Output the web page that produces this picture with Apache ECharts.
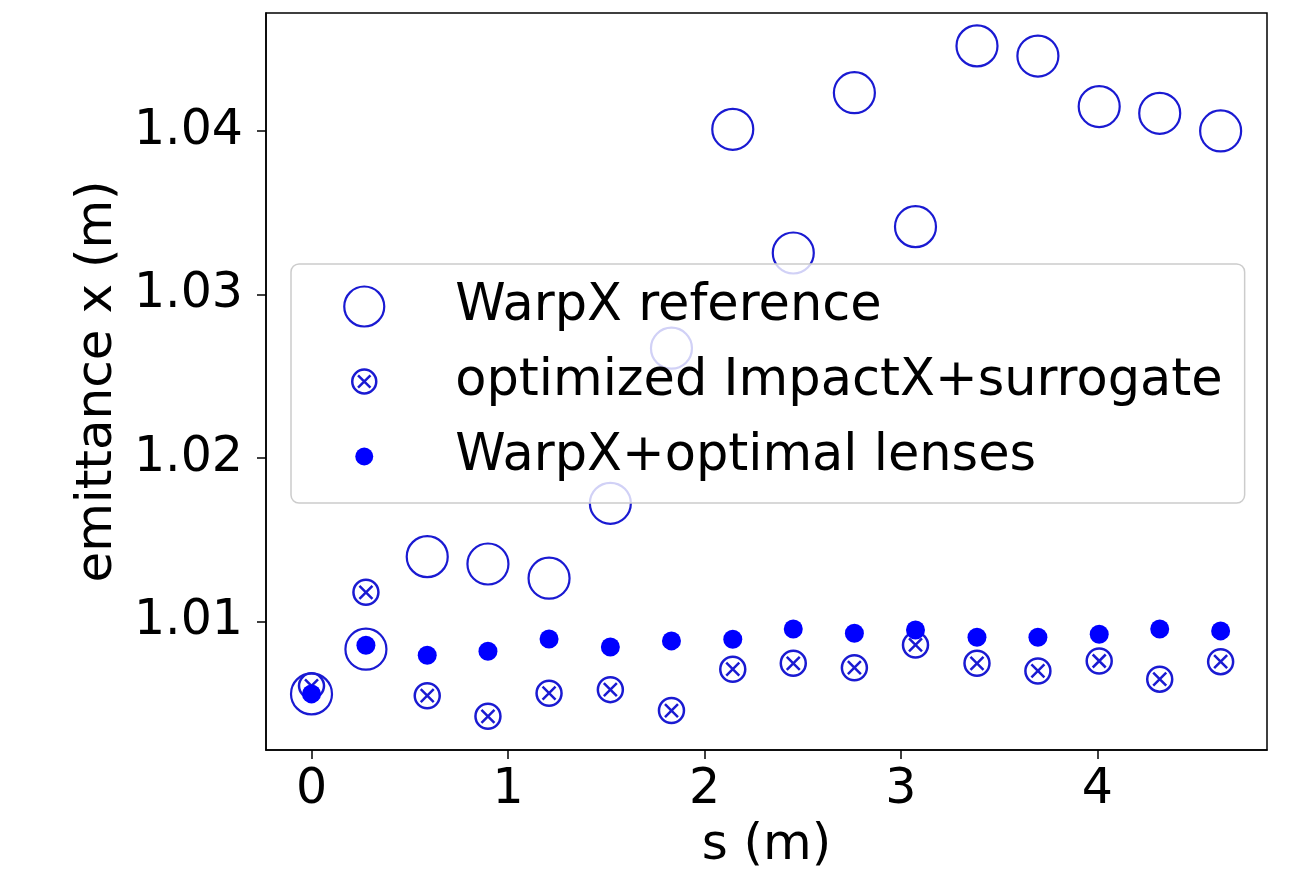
<!DOCTYPE html>
<html>
<head>
<meta charset="utf-8">
<script src="https://cdn.jsdelivr.net/npm/echarts@6/dist/echarts.min.js"></script>
<style>
  html, body { margin: 0; padding: 0; background: #fff; }
  #chart { width: 1312px; height: 876px; }
</style>
</head>
<body>
<div id="chart"></div>
<script>
// positions along the beamline, s (m)
var sPos = [0, 0.277, 0.589, 0.898, 1.209, 1.521, 1.832, 2.144, 2.452, 2.763, 3.074, 3.387, 3.697, 4.009, 4.317, 4.627];
// emittance x (m)
var warpxRef = [1.00559, 1.00832, 1.01398, 1.01353, 1.01266, 1.01724, 1.02672, 1.04010, 1.03254, 1.04234, 1.03415, 1.04520, 1.04458, 1.04149, 1.04108, 1.04000];
var impactxSurrogate = [1.00608, 1.01180, 1.00548, 1.00422, 1.00563, 1.00585, 1.00457, 1.00710, 1.00746, 1.00719, 1.00858, 1.00746, 1.00699, 1.00760, 1.00649, 1.00756];
var warpxOptimal = [1.00559, 1.00856, 1.00795, 1.00820, 1.00895, 1.00846, 1.00883, 1.00893, 1.00956, 1.00930, 1.00950, 1.00905, 1.00905, 1.00924, 1.00956, 1.00944];
var seriesNames = ['WarpX reference', 'optimized ImpactX+surrogate', 'WarpX+optimal lenses'];
var xTicks = [0, 1, 2, 3, 4];
var yTicks = [1.01, 1.02, 1.03, 1.04];

function pairs(xs, ys) {
    var out = [];
    for (var i = 0; i < xs.length; i++) out.push([xs[i], ys[i]]);
    return out;
}

var STROKE = '#1a1ad2';
var FILL = '#0000ff';
var FONT = 'DejaVu Sans';

// circle with a cross, drawn in pixel units so the stroke is not scaled
var crossSymbol = 'path://M12.5,0 A12.5,12.5 0 1,1 -12.5,0 A12.5,12.5 0 1,1 12.5,0 Z M-6.5,-6.5 L6.5,6.5 M6.5,-6.5 L-6.5,6.5';
// legend icons padded out to a 40x40 box so they keep their own size
var crossIcon = 'path://M-20,-20 M20,20 M12,0 A12,12 0 1,1 -12,0 A12,12 0 1,1 12,0 Z M-6.2,-6.2 L6.2,6.2 M6.2,-6.2 L-6.2,6.2';
var dotIcon = 'path://M-20,-20 M20,20 M9,0 A9,9 0 1,1 -9,0 A9,9 0 1,1 9,0 Z';

var chart = echarts.init(document.getElementById('chart'));
var option = {
    backgroundColor: '#fff',
    animation: false,
    grid: {
        left: 266,
        top: 13,
        right: 45,
        bottom: 126,
        show: true,
        borderColor: '#000',
        borderWidth: 1.5,
        backgroundColor: 'transparent'
    },
    legend: {
        orient: 'vertical',
        left: 291,
        top: 264,
        padding: [17, 22, 21, 52],
        itemGap: 24,
        itemWidth: 40,
        itemHeight: 40,
        backgroundColor: 'rgba(255,255,255,0.8)',
        borderColor: '#cccccc',
        borderWidth: 1.5,
        borderRadius: 8,
        z: 10,
        textStyle: {
            fontFamily: FONT,
            fontSize: 51,
            lineHeight: 50,
            color: '#000',
            padding: [0, 0, 0, 66]
        },
        data: [
            { name: seriesNames[0], icon: 'circle',
              itemStyle: { color: 'rgba(0,0,0,0)', borderColor: STROKE, borderWidth: 2.2, opacity: 1 } },
            { name: seriesNames[1], icon: crossIcon,
              itemStyle: { color: 'rgba(0,0,0,0)', borderColor: STROKE, borderWidth: 2.5, opacity: 1 } },
            { name: seriesNames[2], icon: dotIcon,
              itemStyle: { color: FILL, borderWidth: 0, opacity: 1 } }
        ]
    },
    xAxis: {
        type: 'value',
        min: -0.2316,
        max: 4.863,
        name: 's (m)',
        nameLocation: 'middle',
        nameGap: 71,
        nameTextStyle: { fontFamily: FONT, fontSize: 50, color: '#000' },
        axisLine: { show: true, onZero: false, lineStyle: { color: '#000', width: 1.5 } },
        axisTick: { show: true, customValues: xTicks, length: 9, lineStyle: { color: '#000', width: 1.5 } },
        axisLabel: {
            customValues: xTicks,
            margin: 16,
            fontFamily: FONT,
            fontSize: 49,
            color: '#000'
        },
        splitLine: { show: false }
    },
    yAxis: {
        type: 'value',
        min: 1.00216,
        max: 1.04721,
        name: 'emittance x (m)',
        nameLocation: 'middle',
        nameGap: 141,
        nameTextStyle: { fontFamily: FONT, fontSize: 50, color: '#000' },
        axisLine: { show: true, onZero: false, lineStyle: { color: '#000', width: 1.5 } },
        axisTick: { show: true, customValues: yTicks, length: 9, lineStyle: { color: '#000', width: 1.5 } },
        axisLabel: {
            customValues: yTicks,
            margin: 23,
            fontFamily: FONT,
            fontSize: 49,
            color: '#000',
            formatter: function (v) { return v.toFixed(2); }
        },
        splitLine: { show: false }
    },
    series: [
        {
            name: seriesNames[0],
            type: 'scatter',
            symbol: 'circle',
            symbolSize: 41,
            itemStyle: { color: 'rgba(0,0,0,0)', borderColor: STROKE, borderWidth: 2.2, opacity: 1 },
            data: pairs(sPos, warpxRef)
        },
        {
            name: seriesNames[1],
            type: 'scatter',
            symbol: crossSymbol,
            symbolSize: 25,
            itemStyle: { color: 'rgba(0,0,0,0)', borderColor: STROKE, borderWidth: 2.5, opacity: 1 },
            data: pairs(sPos, impactxSurrogate)
        },
        {
            name: seriesNames[2],
            type: 'scatter',
            symbol: 'circle',
            symbolSize: 19,
            itemStyle: { color: FILL, borderWidth: 0, opacity: 1 },
            data: pairs(sPos, warpxOptimal)
        }
    ]
};
chart.setOption(option);
</script>
</body>
</html>
